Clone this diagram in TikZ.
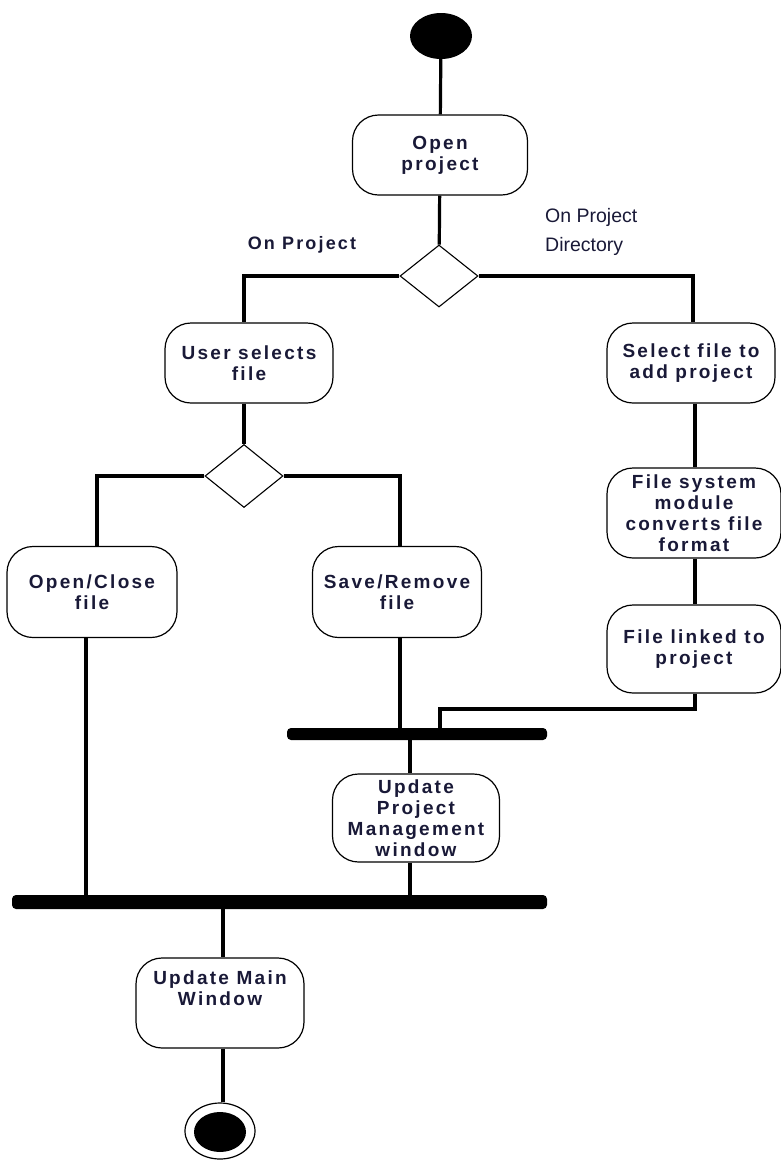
\documentclass[tikz,border=0pt]{standalone}
\usepackage{fontspec}
\setmainfont{Liberation Sans}
\newfontfamily\boxfont[LetterSpace=12]{Liberation Sans}
\usetikzlibrary{shapes.geometric}
\definecolor{ink}{RGB}{25,25,55}
\tikzset{
  act/.style={draw, line width=1.2pt, rounded corners=26pt, align=center, inner sep=0pt,
    font=\boxfont\bfseries\fontsize{19}{21}\selectfont, text=ink},
  dec/.style={draw, diamond, line width=1.1pt, inner sep=0pt, fill=white},
  bar/.style={fill=black, rounded corners=4pt, inner sep=0pt},
  flow/.style={line width=3.2pt},
}
\begin{document}
\begin{tikzpicture}[x=1pt,y=-1pt]
\useasboundingbox (0,0) rectangle (781,1163);
% start / end
\node[ellipse, fill=black, minimum width=62pt, minimum height=46pt, inner sep=0pt] (start) at (441,36) {};
\node[ellipse, draw, line width=1.2pt, minimum width=70pt, minimum height=56pt, inner sep=0pt] (endo) at (220,1131) {};
\node[ellipse, fill=black, minimum width=52pt, minimum height=40pt, inner sep=0pt] (endi) at (220,1132) {};
% actions
\node[act, minimum width=175pt, minimum height=80pt] (open) at (440,155) {Open\\project};
\node[act, minimum width=168pt, minimum height=80pt] (usel) at (249,363) {User selects\\file};
\node[act, minimum width=168pt, minimum height=80pt] (self) at (691,363) {Select file to\\add project};
\node[act, minimum width=174pt, minimum height=90pt] (fsm) at (694,513) {File system\\module\\converts file\\format};
\node[act, minimum width=174pt, minimum height=88pt] (link) at (694,649) {File linked to\\project};
\node[act, minimum width=170pt, minimum height=91pt] (oc) at (92,592) {Open/Close\\file};
\node[act, minimum width=169pt, minimum height=91pt] (sr) at (397,592) {Save/Remove\\file};
\node[act, minimum width=167pt, minimum height=88pt] (upm) at (416,818) {Update\\Project\\Management\\window};
\node[act, minimum width=168pt, minimum height=90pt] (umw) at (220,1003) {Update Main\\Window\\[8pt]};
% decisions
\node[dec, minimum width=78pt, minimum height=62pt] (d1) at (439,276) {};
\node[dec, minimum width=78pt, minimum height=63pt] (d2) at (244,476) {};
% bars
\node[bar, minimum width=260pt, minimum height=12pt] (bar1) at (417,734) {};
\node[bar, minimum width=535pt, minimum height=14pt] (bar2) at (279.5,902) {};
% labels
\node[font=\boxfont\bfseries\fontsize{18}{21}\selectfont, text=ink] (lp) at (302,245) {On Project};
\node[anchor=west, align=left, font=\fontsize{19.5}{29}\selectfont, text=ink, inner sep=0pt] (lpd) at (545,232) {On Project\\Directory};
% coordinates
\coordinate (c1) at (244,276);
\coordinate (c2) at (693,276);
\coordinate (c3) at (97,476);
\coordinate (c4) at (400,476);
\coordinate (c5) at (695,709);
\coordinate (c6) at (440,709);
% connectors
\draw[flow] (start) -- (open);
\draw[flow] (open) -- (d1);
\draw[flow] (d1.west) -- (c1) -- (c1 |- usel.north);
\draw[flow] (d1.east) -- (c2) -- (c2 |- self.north);
\draw[flow] (usel.south -| c1) -- (d2.north);
\draw[flow] (self.south -| c5) -- (c5 |- fsm.north);
\draw[flow] (fsm.south -| c5) -- (c5 |- link.north);
\draw[flow] (d2.west) -- (c3) -- (c3 |- oc.north);
\draw[flow] (d2.east) -- (c4) -- (c4 |- sr.north);
\draw[flow] (c5 |- link.south) -- (c5) -- (c6) -- (c6 |- bar1.north);
\draw[flow] (c4 |- sr.south) -- (c4 |- bar1.north);
\draw[flow] (86,638) coordinate (ocs) -- (ocs |- bar2.north);
\draw[flow] (410,740) coordinate (b1s) -- (b1s |- upm.north);
\draw[flow] (b1s |- upm.south) -- (b1s |- bar2.north);
\draw[flow] (223,909) coordinate (b2s) -- (b2s |- umw.north);
\draw[flow] (b2s |- umw.south) -- (b2s |- endo.north);
\end{tikzpicture}
\end{document}
